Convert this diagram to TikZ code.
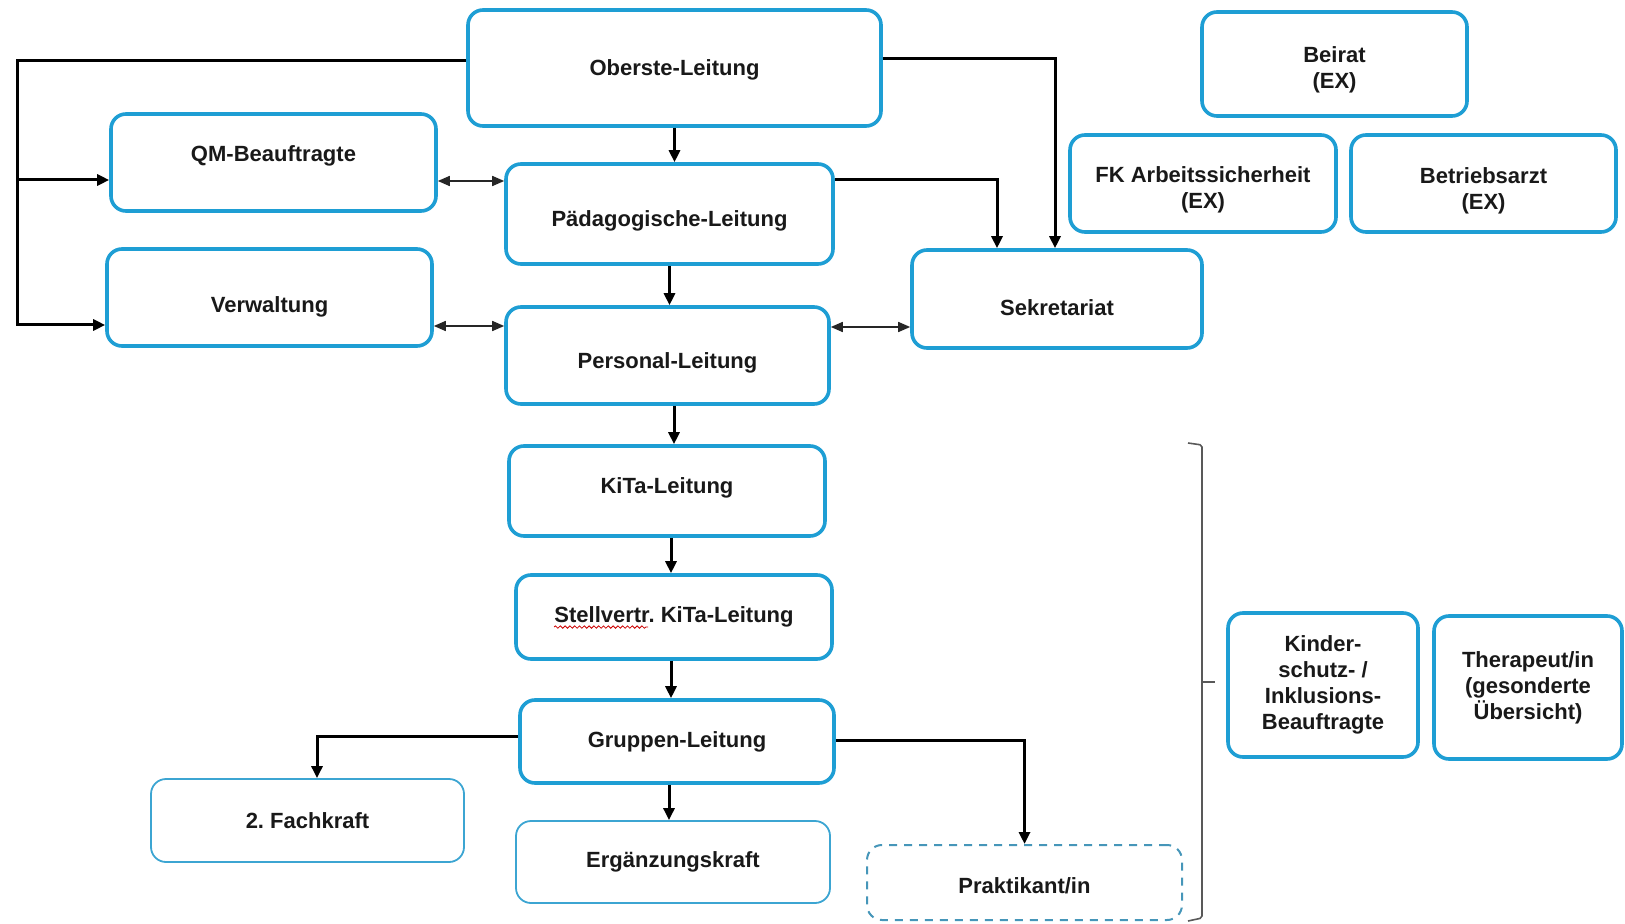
\documentclass[tikz,border=0pt]{standalone}
\usepackage{fontspec}
\setmainfont{Liberation Sans}
\usetikzlibrary{arrows.meta,decorations.pathmorphing}
\definecolor{boxblue}{RGB}{30,158,212}
\definecolor{thinblue}{RGB}{60,165,210}
\definecolor{dashblue}{RGB}{70,150,185}
\definecolor{txt}{RGB}{25,25,25}
\tikzset{
  wh/.style 2 args={minimum width=#1*0.5pt, minimum height=#2*0.5pt},
  lbl/.style={text=txt, font=\fontsize{11}{13}\selectfont\bfseries, align=center, inner sep=0pt},
  box/.style={lbl, draw=boxblue, line width=1.8pt, rounded corners=7.5pt, fill=white},
  thinbox/.style={box, line width=0.9pt, draw=thinblue},
  dashbox/.style={box, line width=1pt, draw=dashblue, dash pattern=on 4pt off 3.5pt},
  conn/.style={line width=1.5pt, draw=black, -{Triangle[length=6pt,width=5.5pt]}},
  dbl/.style={line width=0.8pt, draw=black!85, {Triangle[length=6pt,width=5pt]}-{Triangle[length=6pt,width=5pt]}},
  bracketline/.style={line width=0.8pt, draw=black!65, rounded corners=1pt},
  wavy/.style={draw=red!80!black, line width=0.4pt, decorate, decoration={snake, amplitude=0.6pt, segment length=2.4pt}},
}
\begin{document}
\begin{tikzpicture}[x=0.5pt,y=-0.5pt]
\useasboundingbox (0,0) rectangle (1625,924);

% boxes
\node[box, wh={413}{116}] (ober) at (674.5,68) {};
\node[lbl] (obert) at ([yshift=-1pt]ober.center) {Oberste-Leitung};
\node[box, wh={325}{97}] (qm) at (273.5,162.5) {};
\node[lbl] (qmt) at ([yshift=3.5pt]qm.center) {QM-Beauftragte};
\node[box, wh={327}{100}] (paed) at (669.5,214) {};
\node[lbl] (paedt) at ([yshift=-3.6pt]paed.center) {Pädagogische-Leitung};
\node[box, wh={325}{97}] (vw) at (269.5,297.5) {};
\node[lbl] (vwt) at ([yshift=-4.6pt]vw.center) {Verwaltung};
\node[box, wh={323}{97}] (pers) at (667.5,355.5) {};
\node[lbl] (perst) at ([yshift=-3.6pt]pers.center) {Personal-Leitung};
\node[box, wh={290}{98}] (sek) at (1057,299) {};
\node[lbl] (sekt) at ([yshift=-4.1pt]sek.center) {Sekretariat};
\node[box, wh={265}{104}] (beirat) at (1334.5,64) {};
\node[lbl] (beiratt) at ([yshift=-3.1pt]beirat.center) {Beirat\\(EX)};
\node[box, wh={266}{97}] (fk) at (1203,183.5) {};
\node[lbl] (fkt) at ([yshift=-3.1pt]fk.center) {FK Arbeitssicherheit\\(EX)};
\node[box, wh={265}{97}] (arzt) at (1483.5,183.5) {};
\node[lbl] (arztt) at ([yshift=-3.6pt]arzt.center) {Betriebsarzt\\(EX)};
\node[box, wh={316}{90}] (kita) at (667,491) {};
\node[lbl] (kitat) at ([yshift=1.5pt]kita.center) {KiTa-Leitung};
\node[box, wh={316}{84}] (stv) at (674,617) {Stellvertr.\ KiTa-Leitung};
\node[box, wh={314}{83}] (grp) at (677,741.5) {Gruppen-Leitung};
\node[thinbox, wh={313}{83}] (fach) at (307.5,820.5) {2.\ Fachkraft};
\node[thinbox, wh={314}{82}] (erg) at (673,862) {Ergänzungskraft};
\node[dashbox, wh={315}{75}] (prak) at (1024.5,882.5) {};
\node[lbl] (prakt) at ([yshift=-1.5pt]prak.center) {Praktikant/in};
\node[box, wh={190}{144}] (kind) at (1323,685) {Kinder-\\schutz- /\\Inklusions-\\Beauftragte};
\node[box, wh={188}{143}] (ther) at (1528,687.5) {Therapeut/in\\(gesonderte\\Übersicht)};

% spell-check wave under "Stellvertr"
\draw[wavy] ([xshift=-60pt,yshift=-2.2pt]stv.base) -- ([xshift=-13pt,yshift=-2.2pt]stv.base);

% vertical chain
\draw[conn] (ober) -- (ober |- paed.north);
\draw[conn] (paed) -- (paed |- pers.north);
\draw[conn] ([xshift=3.25pt]pers.south) -- ([xshift=3.25pt]pers.south |- kita.north);
\draw[conn] ([xshift=2pt]kita.south) -- ([xshift=2pt]kita.south |- stv.north);
\draw[conn] ([xshift=-1.5pt]stv.south) -- ([xshift=-1.5pt]stv.south |- grp.north);
\draw[conn] ([xshift=-4pt]grp.south) -- ([xshift=-4pt]grp.south |- erg.north);

% left bus from Oberste-Leitung
\coordinate (lbus) at (17,61);
\coordinate (qmin) at ([yshift=-8.75pt]qm.west);
\draw[conn] ([yshift=3.5pt]ober.west) -- (lbus) |- ([yshift=-13.75pt]vw.west);
\draw[conn] (lbus |- qmin) -- (qmin);

% right lines to Sekretariat
\draw[conn] ([yshift=4.5pt]ober.east) -| ([xshift=-1pt]sek.north);
\draw[conn] ([yshift=17pt]paed.east) -| ([xshift=-30pt]sek.north);

% double arrows
\draw[dbl] ([yshift=-9.25pt]qm.east) -- ([yshift=-9.25pt]qm.east -| paed.west);
\draw[dbl] ([yshift=-14.25pt]vw.east) -- ([yshift=-14.25pt]vw.east -| pers.west);
\draw[dbl] ([yshift=14.25pt]pers.east) -- ([yshift=14.25pt]pers.east -| sek.west);

% Gruppen-Leitung branches
\draw[conn] ([yshift=2.75pt]grp.west) -| ([xshift=4.75pt]fach.north);
\draw[conn] ([yshift=0.75pt]grp.east) -| (prak.north);

% bracket
\draw[bracketline] (1188,443) -- (1202,445) -- (1202,918) -- (1188,921);
\draw[bracketline] (1202,682) -- (1215,682);
\end{tikzpicture}
\end{document}
